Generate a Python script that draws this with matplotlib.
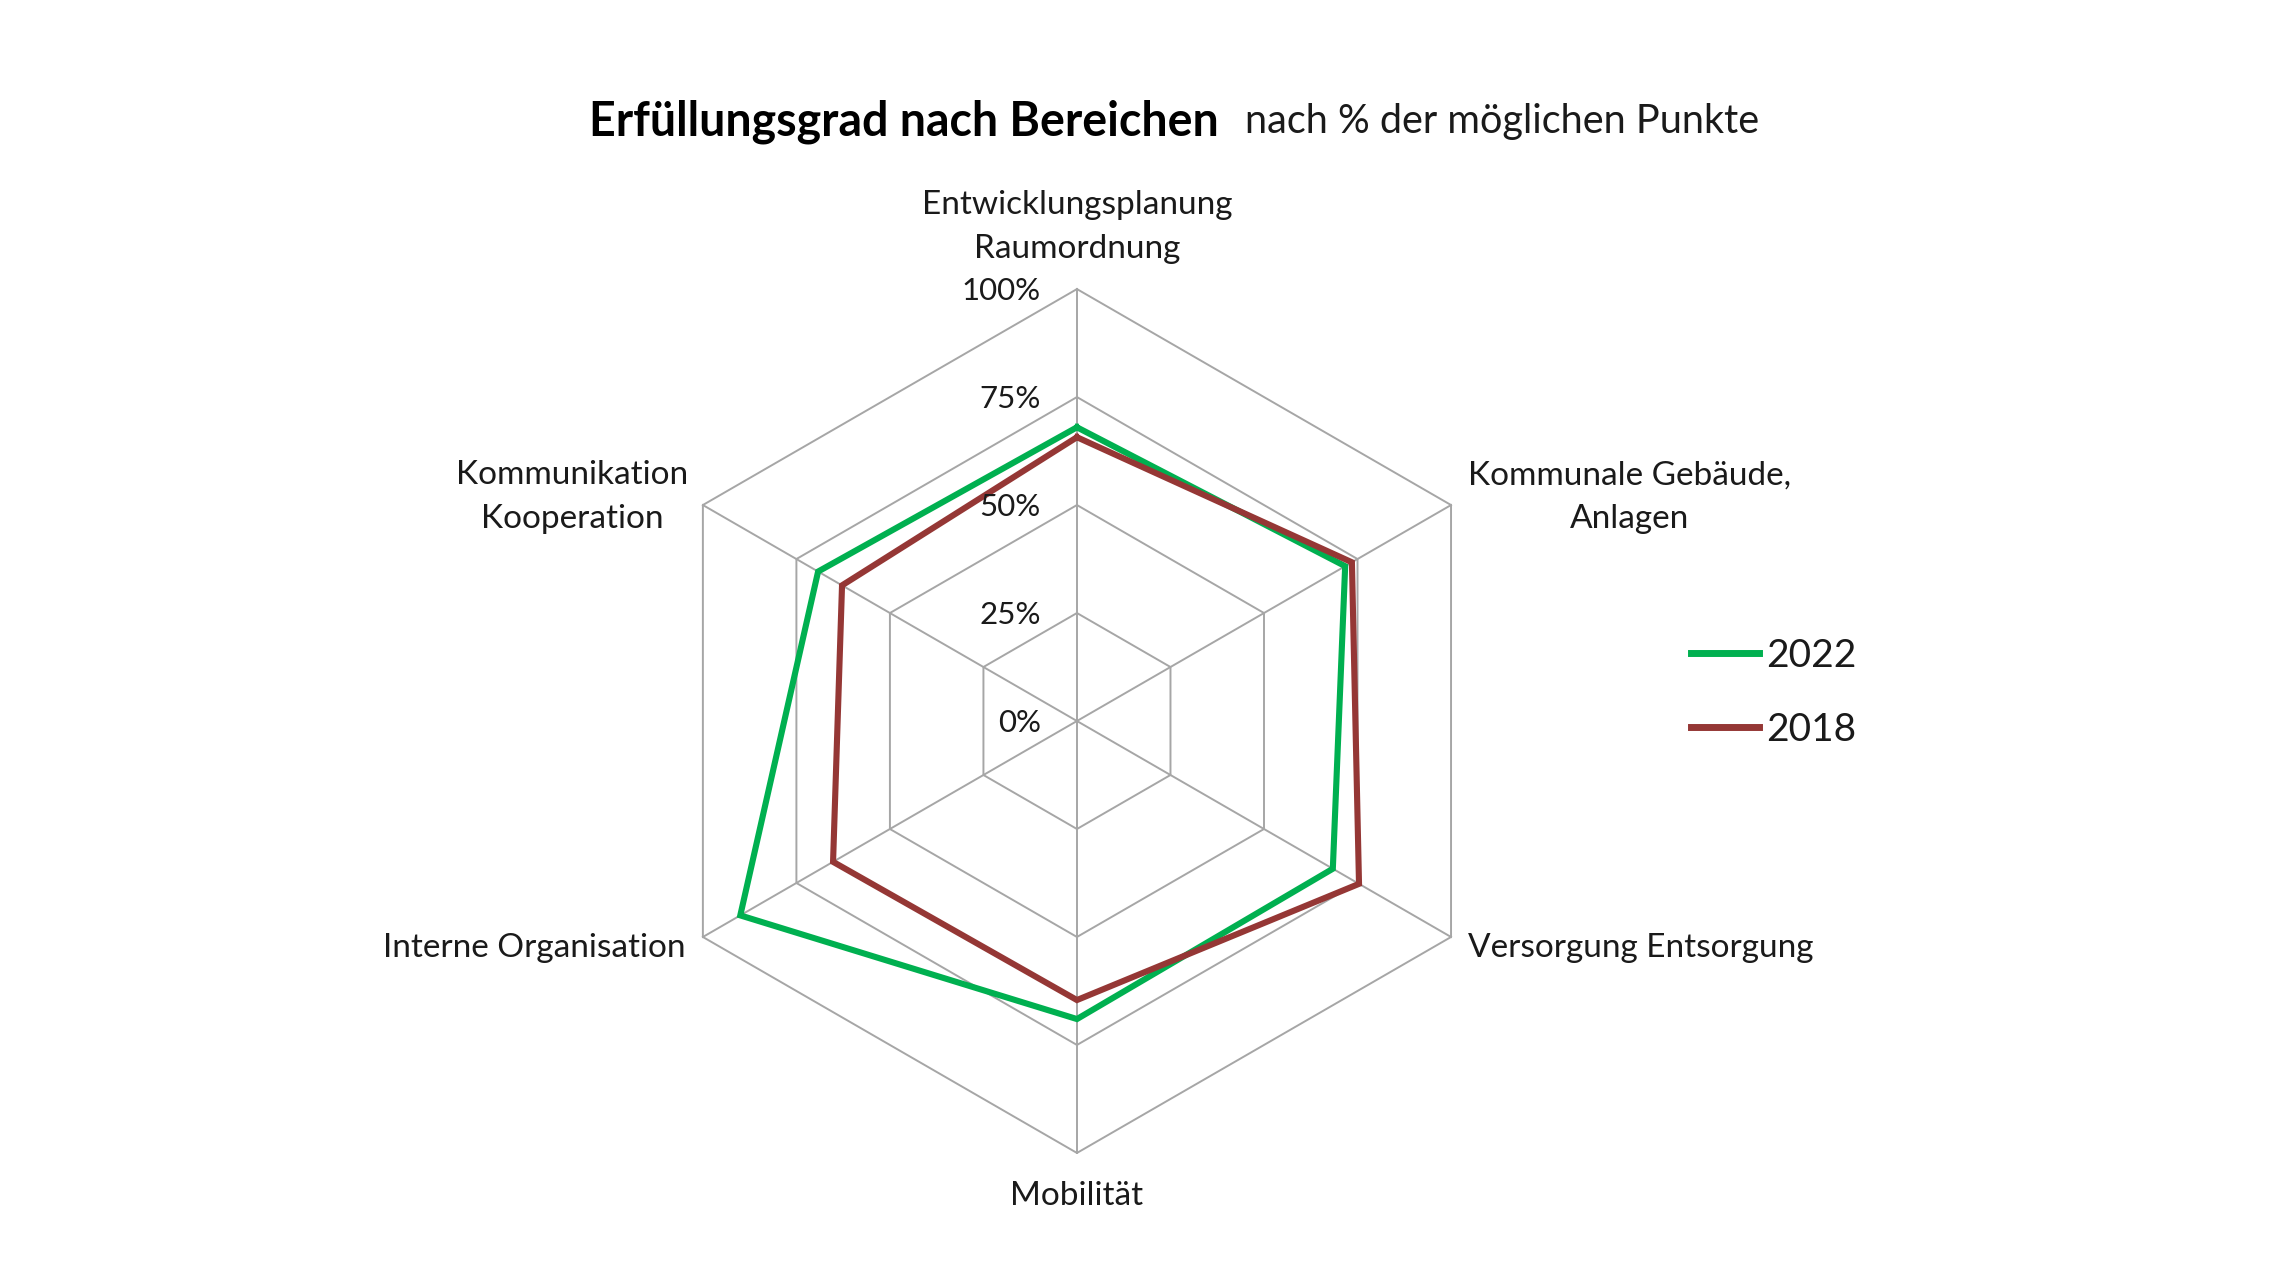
import numpy as np
import matplotlib
matplotlib.use("Agg")
from matplotlib import pyplot as plt

# categories (clockwise from top)
categories = ["Entwicklungsplanung\nRaumordnung",
              "Kommunale Gebäude,\nAnlagen",
              "Versorgung Entsorgung",
              "Mobilität",
              "Interne Organisation",
              "Kommunikation\nKooperation"]

# share of possible points
vals_2022 = [0.68, 0.717, 0.684, 0.69, 0.90, 0.692]
vals_2018 = [0.657, 0.735, 0.754, 0.646, 0.652, 0.628]

ring_levels = [0.25, 0.5, 0.75, 1.0]
tick_levels = [0.0, 0.25, 0.5, 0.75, 1.0]
tick_labels = ["0%", "25%", "50%", "75%", "100%"]

# colours
green_22 = '#00B050'
red_18 = '#953735'
grid_col = '#a6a6a6'
txt_col = '#1a1a1a'

plt.rcParams['font.family'] = ['Lato', 'DejaVu Sans']

fig = plt.figure(figsize=(22.8, 12.81), dpi=100)
fig.patch.set_facecolor('white')

ax = fig.add_axes([0.2829, 0.0999, 0.3789, 0.6745], projection='polar')
ax.set_theta_offset(np.pi / 2)
ax.set_theta_direction(-1)
ax.set_ylim(0, 1)
ax.grid(False)
ax.set_xticks([])
ax.set_yticks([])
ax.spines['polar'].set_visible(False)

n = len(categories)
angles = np.arange(n) * 2 * np.pi / n
closed = np.append(angles, angles[0])

# hexagon rings and spokes
for lev in ring_levels:
    ax.plot(closed, [lev] * (n + 1), color=grid_col, linewidth=1.4, clip_on=False, zorder=1)
for a in angles:
    ax.plot([a, a], [0, 1], color=grid_col, linewidth=1.4, clip_on=False, zorder=1)

# data
ax.plot(closed, vals_2022 + vals_2022[:1], color=green_22, linewidth=4.4,
        label='2022', clip_on=False, zorder=3, solid_joinstyle='miter')
ax.plot(closed, vals_2018 + vals_2018[:1], color=red_18, linewidth=4.4,
        label='2018', clip_on=False, zorder=3, solid_joinstyle='miter')

# radial tick labels left of the top spoke
for lev, lab in zip(tick_levels, tick_labels):
    ax.annotate(lab, xy=(0, lev), xytext=(-36, -2), textcoords='offset pixels',
                ha='right', va='center', fontsize=22.5, color=txt_col)

# category labels
label_pos = [((0, 62), 'center'),
             ((17, 8), 'left'),
             ((17, -11), 'left'),
             ((0, -43), 'center'),
             ((-17, -11), 'right'),
             ((-15, 8), 'right')]
for a, cat, (off, ha) in zip(angles, categories, label_pos):
    ax.annotate(cat, xy=(a, 1.0), xytext=off, textcoords='offset pixels',
                ha=ha, va='center', multialignment='center', fontsize=24,
                color=txt_col, linespacing=1.56)

# title
fig.text(0.2583, 0.905, "Erfüllungsgrad nach Bereichen", fontsize=33.5,
         fontweight='bold', color='black', ha='left', va='center')
fig.text(0.546, 0.905, "nach % der möglichen Punkte", fontsize=28.5,
         color=txt_col, ha='left', va='center')

leg = ax.legend(loc='upper left', bbox_to_anchor=(0.7417, 0.502),
                bbox_transform=fig.transFigure, frameon=False, fontsize=28,
                handlelength=1.75, handletextpad=0.17, labelspacing=0.98,
                borderpad=0, borderaxespad=0)
for t in leg.get_texts():
    t.set_color(txt_col)
for h in leg.get_lines():
    h.set_linewidth(5)

fig.savefig('out.png', dpi=100, facecolor='white')
